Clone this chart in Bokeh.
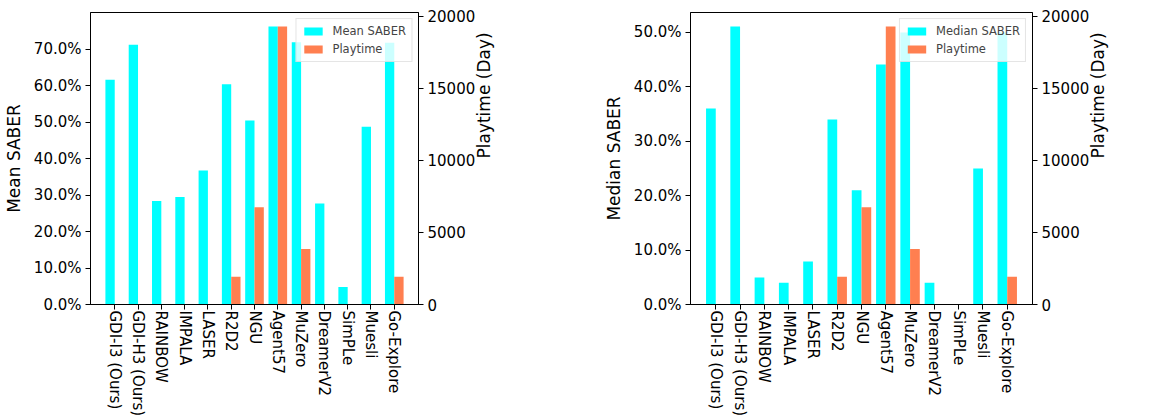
import math

from bokeh.plotting import figure
from bokeh.layouts import row
from bokeh.models import (Range1d, LinearAxis, FixedTicker, NumeralTickFormatter,
                          Legend, LegendItem, ColumnDataSource)
from bokeh.embed import file_html
from bokeh.resources import INLINE

# Agents compared
agents = ["GDI-I3 (Ours)", "GDI-H3 (Ours)", "RAINBOW", "IMPALA", "LASER", "R2D2",
          "NGU", "Agent57", "MuZero", "DreamerV2", "SimPLe", "Muesli", "Go-Explore"]

# SABER scores (fraction of human world record)
mean_saber = [0.6166, 0.7126, 0.2839, 0.2945, 0.3678, 0.6043, 0.5047, 0.7626,
              0.7194, 0.2773, 0.0480, 0.4874, 0.7180]
median_saber = [0.3600, 0.5110, 0.0496, 0.0400, 0.0790, 0.3400, 0.2100, 0.4410,
                0.5000, 0.0400, 0.0000, 0.2500, 0.5000]

# Training playtime in days
playtime = [0, 0, 0, 0, 0, 1929, 6751, 19290, 3858, 0, 0, 0, 1929]

CYAN = "#00FFFF"
CORAL = "#FF7F50"
FONT = "DejaVu Sans"
BAR_W = 0.4


def make_panel(scores, score_label, width, border_left, border_right):
    n = len(agents)
    idx = list(range(n))
    score_top = max(scores) * 1.05
    play_top = max(playtime) * 1.05
    lo = -BAR_W - 0.05 * (n - 1 + 2 * BAR_W)
    hi = n - 1 + BAR_W + 0.05 * (n - 1 + 2 * BAR_W)

    p = figure(width=width, height=419, output_backend="svg", toolbar_location=None,
               x_range=Range1d(lo, hi), y_range=Range1d(0, score_top),
               min_border_left=border_left, min_border_right=border_right,
               min_border_top=12, min_border_bottom=115)
    p.extra_y_ranges = {"play": Range1d(0, play_top)}
    p.grid.visible = False
    p.outline_line_color = "black"
    p.outline_line_width = 1
    p.background_fill_color = "white"
    p.border_fill_color = "white"

    src = ColumnDataSource(dict(
        xs=[i - BAR_W / 2 for i in idx],
        xp=[i + BAR_W / 2 for i in idx],
        s=scores, t=playtime))
    r1 = p.vbar(x="xs", top="s", width=BAR_W, source=src, fill_color=CYAN,
                line_color=None)
    r2 = p.vbar(x="xp", top="t", width=BAR_W, source=src, fill_color=CORAL,
                line_color=None, y_range_name="play")

    # x axis: agent names, vertical
    xa = p.xaxis[0]
    xa.ticker = FixedTicker(ticks=idx)
    xa.major_label_overrides = {i: a for i, a in enumerate(agents)}
    xa.major_label_orientation = "vertical"

    # left axis: score as percentage
    ya = p.yaxis[0]
    ya.ticker = FixedTicker(ticks=[k / 10 for k in range(0, 10) if k / 10 <= max(scores)])
    ya.formatter = NumeralTickFormatter(format="0.0%")
    ya.axis_label = score_label

    # right axis: playtime in days
    ra = LinearAxis(y_range_name="play", axis_label="Playtime (Day)")
    ra.ticker = FixedTicker(ticks=[0, 5000, 10000, 15000, 20000])
    ra.axis_label_orientation = math.pi / 2
    p.add_layout(ra, "right")

    for ax in (xa, ya, ra):
        ax.axis_line_color = "black"
        ax.axis_line_width = 1
        ax.major_tick_line_color = "black"
        ax.major_tick_out = 5
        ax.major_tick_in = 0
        ax.minor_tick_line_color = None
        ax.major_label_text_font = FONT
        ax.major_label_text_font_size = "15px"
        ax.major_label_text_color = "black"
        ax.major_label_standoff = 4
        ax.axis_label_text_font = FONT
        ax.axis_label_text_font_size = "17px"
        ax.axis_label_text_font_style = "normal"
        ax.axis_label_text_color = "black"
        ax.axis_label_standoff = 7
    ra.axis_label_standoff = 6
    xa.major_label_standoff = 1

    legend = Legend(items=[LegendItem(label=score_label, renderers=[r1]),
                           LegendItem(label="Playtime", renderers=[r2])],
                    location="top_right", margin=6, padding=5, spacing=4,
                    glyph_width=23, glyph_height=10, label_height=10,
                    label_text_font=FONT, label_text_font_size="11.5px",
                    label_standoff=8,
                    border_line_color="#cccccc", border_line_width=1,
                    background_fill_color="white", background_fill_alpha=0.8)
    p.add_layout(legend, "center")
    return p


left = make_panel(mean_saber, "Mean SABER", 590, 84, 172)
right = make_panel(median_saber, "Median SABER", 584, 100, 142)

layout = row(left, right, spacing=0)

open("out.html", "w").write(file_html(layout, INLINE))
